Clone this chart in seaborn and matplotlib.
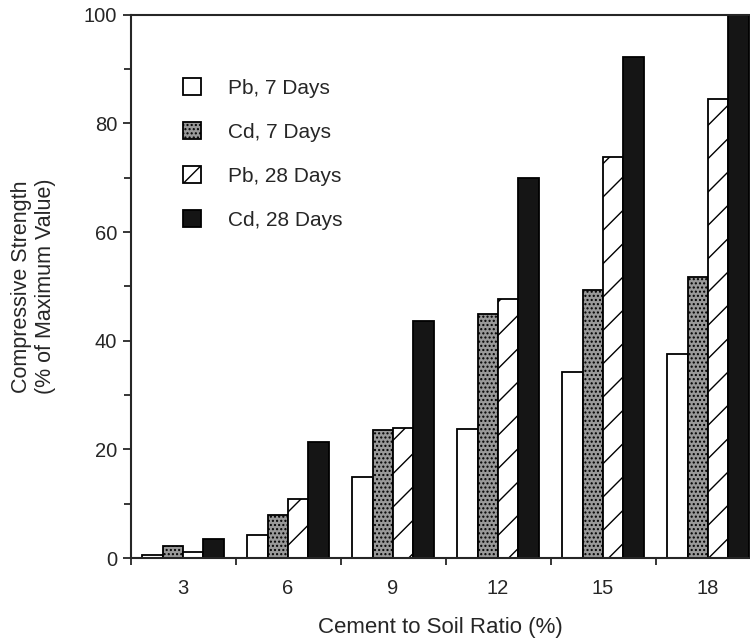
import pandas as pd
import seaborn as sns
import matplotlib.pyplot as plt
from matplotlib.ticker import MultipleLocator, FixedLocator

ratios = ['3', '6', '9', '12', '15', '18']
series_names = ['Pb, 7 Days', 'Cd, 7 Days', 'Pb, 28 Days', 'Cd, 28 Days']
pb_7 = [0.6, 4.2, 15.0, 23.8, 34.3, 37.5]
cd_7 = [2.2, 7.9, 23.5, 44.9, 49.4, 51.8]
pb_28 = [1.1, 10.8, 23.9, 47.6, 73.8, 84.5]
cd_28 = [3.5, 21.3, 43.6, 70.0, 92.3, 100.0]

rows = []
for name, vals in zip(series_names, [pb_7, cd_7, pb_28, cd_28]):
    for r, v in zip(ratios, vals):
        rows.append({'ratio': r, 'series': name, 'value': v})
df = pd.DataFrame(rows)

sns.set_style('ticks')
plt.rcParams['font.family'] = ['Liberation Sans', 'DejaVu Sans']
plt.rcParams['hatch.linewidth'] = 1.0

fig = plt.figure(figsize=(7.5, 6.4), dpi=100)
ax = fig.add_axes([0.174, 0.128, 0.826, 0.849])

sns.barplot(data=df, x='ratio', y='value', hue='series', order=ratios,
            hue_order=series_names, width=0.78, gap=0, ax=ax, legend=False)

styles = [('white', None), ('#999999', '....'), ('white', '/'), ('#151515', None)]
for cont, (fc, hatch) in zip(ax.containers, styles):
    for p in cont.patches:
        p.set_facecolor(fc)
        p.set_edgecolor('black')
        p.set_linewidth(1.3)
        if hatch:
            p.set_hatch(hatch)

ax.set_ylim(0, 100)
ax.set_xlim(-0.5, 5.4)
ax.yaxis.set_major_locator(MultipleLocator(20))
ax.yaxis.set_minor_locator(MultipleLocator(10))
ax.xaxis.set_minor_locator(FixedLocator([-0.5, 0.5, 1.5, 2.5, 3.5, 4.5]))
ax.tick_params(axis='x', which='major', length=0, pad=15, labelsize=14.5)
ax.tick_params(axis='x', which='minor', length=5, width=1.3, direction='out')
ax.tick_params(axis='y', which='major', length=6, width=1.3, direction='out', labelsize=14.5)
ax.tick_params(axis='y', which='minor', length=5, width=1.3, direction='out')

ax.spines['right'].set_visible(False)
for s in ['left', 'bottom', 'top']:
    ax.spines[s].set_linewidth(1.5)

ax.set_xlabel('Cement to Soil Ratio (%)', fontsize=16, labelpad=14)
ax.set_ylabel('Compressive Strength\n(% of Maximum Value)', fontsize=15.5, labelpad=20)

handles = [c.patches[0] for c in ax.containers]
ax.legend(handles, series_names, loc='upper left', bbox_to_anchor=(0.244, 0.878),
          bbox_transform=fig.transFigure, frameon=False, fontsize=15,
          handlelength=0.85, handleheight=0.85, labelspacing=1.18,
          handletextpad=1.3, borderpad=0, borderaxespad=0)

fig.savefig('out.png', dpi=100)
